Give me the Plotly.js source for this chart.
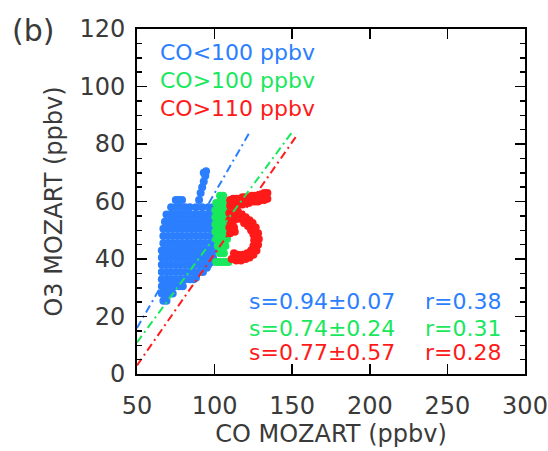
<!DOCTYPE html>
<html>
<head>
<meta charset="utf-8">
<script src="https://cdn.plot.ly/plotly-3.0.1.min.js"></script>
<style>
  html, body { margin: 0; padding: 0; background: #fff; }
  #plot { width: 548px; height: 451px; }
</style>
</head>
<body>
<div id="plot"></div>
<script>
// ---- data ----
// CO < 100 ppbv group (CO, O3)
const bluePts = [
  [67,25.5],[69,25.5],
  [66,28],[68,28],[71,28],[73,28],
  [66,30.5],[68.5,30.5],[71,30.5],[74,30.5],[77,30.5],[79.5,30.5],
  [66,33],[69,33],[72,33],[75,33],[78,33],[81,33],[84,33],[86.5,33],
  [66,35.5],[69,35.5],[72,35.5],[75,35.5],[78,35.5],[81,35.5],[84,35.5],[87,35.5],[90,35.5],[92.5,35.5],
  [66,38],[69,38],[72,38],[75,38],[78,38],[81,38],[84,38],[87,38],[90,38],[93,38],[96,38],
  [66,40.5],[69,40.5],[72,40.5],[75,40.5],[78,40.5],[81,40.5],[84,40.5],[87,40.5],[90,40.5],[93,40.5],[96,40.5],[99,40.5],
  [66,43],[69,43],[72,43],[75,43],[78,43],[81,43],[84,43],[87,43],[90,43],[93,43],[96,43],[99,43],
  [67,45.5],[70,45.5],[73,45.5],[76,45.5],[79,45.5],[82,45.5],[85,45.5],[88,45.5],[91,45.5],[94,45.5],[97,45.5],[99.5,45.5],
  [67,48],[70,48],[73,48],[76,48],[79,48],[82,48],[85,48],[88,48],[91,48],[94,48],[97,48],[99.5,48],
  [67,50.5],[70,50.5],[73,50.5],[76,50.5],[79,50.5],[82,50.5],[85,50.5],[88,50.5],[91,50.5],[94,50.5],[97,50.5],[99.5,50.5],
  [68,53],[71,53],[74,53],[77,53],[80,53],[83,53],[86,53],[89,53],[92,53],[95,53],[98,53],
  [69,55.5],[72,55.5],[75,55.5],[78,55.5],[81,55.5],[84,55.5],[87,55.5],[90,55.5],[93,55.5],[96,55.5],[99,55.5],
  [72,58],[75,58],[78,58],[81,58],[84,58],[88,58],[92,58],[96,58],[99,58],
  [75,60.5],[77,60.5],[79,60.5],[90,60.5],
  [91,63],[92,65],[93,67],[94,69],[94.5,70.5],[93,70],
  [95,37],[98,39],[88,33.5]
];
// CO > 100 ppbv group
const greenPts = [
  [103.5,62],[105.5,62],
  [101,59.5],[103,59.5],[105,59.5],[107,59.5],
  [100.5,57],[103,57],[105.5,57],[108,57],
  [100.5,54.5],[103,54.5],[105.5,54.5],[108,54.5],
  [100.5,52],[103,52],[105.5,52],[108,52],
  [100.5,49.5],[103,49.5],[105.5,49.5],[108,49.5],
  [101,47],[103.5,47],[106,47],[108,47],
  [102,44.5],[104.5,44.5],[107,44.5],
  [103.5,42],[106,42],
  [101,39],[103,39],[105,39],[107,39],[109,39]
];
// CO > 110 ppbv group
const redPts = [
  [110,60.5],[112,61],[114,61],[116,61],[118,61.5],[120,61.5],[122,61.5],[124,62],[126,62],[128,62],[130,62.5],[132,63],[134,63],
  [110,58.5],[112,58.5],[114,59],[116,59],[118,59],[120,59.5],[122,59.5],[124,60],[126,60],[128,60],[130,60.5],[132,60.5],[134,61],
  [109.5,56],[112.5,56],[109.5,53.5],[112.5,53.5],[109.5,51],[112.5,51],[110,49],[113,49.5],
  [111,55],[111,52],[114,54.5],
  [115,56.5],[117.5,55.5],[120,54.5],[122.5,53.5],[124.5,52.5],[126.5,51],[128,49],[128.5,47],[128,45],[127,43],[125,41.5],[122.5,40.5],[120,40],[117,39.5],[114,39.5],[111,40],
  [116,54],[119,52.5],[121.5,51.5],[123.5,50],[125,48.5],[125.5,46.5],[125,44.5],[123.5,43],[121,42],[118,41.5],[115,41.5],[112.5,42]
];
// regression lines (end points)
const fitCO = [[50,122.5],[50,150],[50,153]];
const fitO3 = [[16,84],[11,84.2],[3,83]];
const groupLabels = ['CO<100 ppbv','CO>100 ppbv','CO>110 ppbv'];
const slopeLabels = ['s=0.94±0.07','s=0.74±0.24','s=0.77±0.57'];
const rLabels = ['r=0.38','r=0.31','r=0.28'];
const colors = ['#2b7fff','#19e85c','#ff1a1a'];

const groups = [bluePts, greenPts, redPts];
const traces = [];
groups.forEach((pts, i) => {
  traces.push({
    type: 'scatter', mode: 'markers',
    x: pts.map(p => p[0]), y: pts.map(p => p[1]),
    marker: { color: colors[i], size: 8, line: { width: 0 } },
    hoverinfo: 'skip'
  });
});
fitCO.forEach((xs, i) => {
  traces.push({
    type: 'scatter', mode: 'lines',
    x: xs, y: fitO3[i],
    line: { color: colors[i], width: 2, dash: '8px,4px,2px,4px' },
    hoverinfo: 'skip'
  });
});

const font = 'DejaVu Sans, sans-serif';
const textColor = '#3a3a3a';
const annotations = [];
const legY = [0.933, 0.852, 0.771];
const statY = [0.209, 0.133, 0.061];
groupLabels.forEach((t, i) => {
  annotations.push({ xref: 'paper', yref: 'paper', x: 0.054, y: legY[i], xanchor: 'left', yanchor: 'middle',
    text: t, showarrow: false, font: { family: font, size: 22, color: colors[i] } });
  annotations.push({ xref: 'paper', yref: 'paper', x: 0.283, y: statY[i], xanchor: 'left', yanchor: 'middle',
    text: slopeLabels[i], showarrow: false, font: { family: font, size: 22, color: colors[i] } });
  annotations.push({ xref: 'paper', yref: 'paper', x: 0.737, y: statY[i], xanchor: 'left', yanchor: 'middle',
    text: rLabels[i], showarrow: false, font: { family: font, size: 22, color: colors[i] } });
});
annotations.push({ xref: 'paper', yref: 'paper', x: -0.268, y: 0.995, xanchor: 'center', yanchor: 'middle',
  text: '(b)', showarrow: false, font: { family: font, size: 30, color: textColor } });

const axisCommon = {
  showline: true, linewidth: 2, linecolor: '#000', mirror: 'allticks',
  ticks: 'inside', ticklen: 10, tickwidth: 1.5, tickcolor: '#000',
  showgrid: false, zeroline: false,
  tickfont: { family: font, size: 24, color: textColor }
};

const layout = {
  width: 548, height: 451,
  margin: { l: 137, r: 23, t: 29, b: 77 },
  paper_bgcolor: '#fff', plot_bgcolor: '#fff',
  showlegend: false,
  xaxis: Object.assign({}, axisCommon, {
    range: [50, 300], dtick: 50, tick0: 50,
    ticklabelstandoff: 9,
    title: { text: 'CO MOZART (ppbv)', font: { family: font, size: 24, color: textColor }, standoff: 5 }
  }),
  yaxis: Object.assign({}, axisCommon, {
    range: [0, 120], dtick: 20, tick0: 0,
    ticklabelstandoff: 5,
    minor: { dtick: 5, ticks: 'inside', ticklen: 5, tickwidth: 1.5, tickcolor: '#000', showgrid: false },
    title: { text: 'O3 MOZART (ppbv)', font: { family: font, size: 24, color: textColor }, standoff: 10 }
  }),
  annotations: annotations
};

Plotly.newPlot('plot', traces, layout, { displayModeBar: false, staticPlot: true });
</script>
</body>
</html>
